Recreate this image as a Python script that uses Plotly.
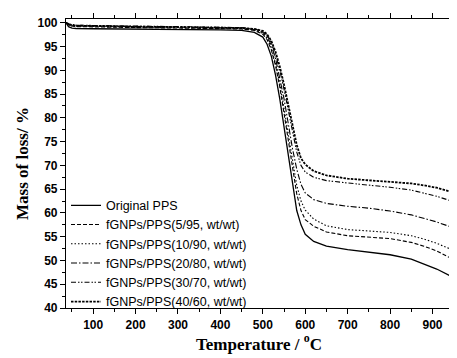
import plotly.graph_objects as go

temps_orig = [36, 42, 50, 60, 100, 200, 300, 400, 450, 480, 500, 510, 520, 530, 540, 550, 560, 570, 580, 590, 600, 620, 650, 700, 750, 800, 850, 880, 910, 945]
mass_orig = [100, 99.2, 98.9, 98.8, 98.75, 98.7, 98.6, 98.5, 98.4, 98.0, 97.0, 95.5, 93.0, 89.0, 84.0, 78.0, 71.5, 65.5, 60.5, 57.5, 55.5, 54.0, 53.0, 52.3, 51.8, 51.2, 50.3, 49.3, 48.2, 46.6]

temps = [36, 45, 60, 100, 200, 300, 400, 450, 480, 500, 510, 520, 530, 540, 550, 560, 570, 580, 590, 600, 620, 650, 700, 750, 800, 850, 880, 910, 945]
mass_5 = [100, 99.4, 99.2, 99.1, 99.0, 98.9, 98.8, 98.7, 98.4, 97.6, 96.5, 94.3, 91.0, 86.5, 81.0, 75.0, 69.0, 64.0, 60.5, 58.6, 57.2, 56.0, 55.2, 54.9, 54.6, 53.8, 53.0, 52.0, 50.4]
mass_10 = [100, 99.5, 99.3, 99.2, 99.1, 99.0, 98.9, 98.8, 98.5, 97.8, 96.8, 94.7, 91.5, 87.2, 82.0, 76.3, 70.5, 65.8, 62.5, 60.6, 58.7, 57.3, 56.5, 56.2, 55.9, 55.2, 54.5, 53.6, 52.3]
mass_20 = [100, 99.6, 99.4, 99.3, 99.2, 99.1, 99.0, 98.9, 98.6, 98.0, 97.1, 95.3, 92.5, 88.6, 84.0, 78.8, 73.5, 69.2, 66.0, 64.2, 62.8, 62.0, 61.4, 61.0, 60.4, 59.6, 58.9, 58.1, 57.0]
mass_30 = [100, 99.7, 99.5, 99.4, 99.3, 99.2, 99.1, 99.0, 98.7, 98.2, 97.4, 95.8, 93.3, 90.0, 86.0, 81.6, 77.0, 72.8, 70.0, 68.6, 67.5, 66.8, 66.3, 65.9, 65.4, 64.8, 64.2, 63.5, 62.5]
mass_40 = [100, 99.6, 99.4, 99.3, 99.2, 99.1, 99.0, 98.9, 98.7, 98.3, 97.6, 96.2, 93.9, 90.8, 87.0, 82.8, 78.4, 74.3, 71.5, 70.2, 68.8, 67.9, 67.2, 66.9, 66.6, 66.2, 65.8, 65.3, 64.4]

names = ["Original PPS", "fGNPs/PPS(5/95, wt/wt)", "fGNPs/PPS(10/90, wt/wt)",
         "fGNPs/PPS(20/80, wt/wt)", "fGNPs/PPS(30/70, wt/wt)", "fGNPs/PPS(40/60, wt/wt)"]
x_ticks = [100, 200, 300, 400, 500, 600, 700, 800, 900]
y_ticks = [40, 45, 50, 55, 60, 65, 70, 75, 80, 85, 90, 95, 100]

series = [
    (temps_orig, mass_orig, "solid", 1.3),
    (temps, mass_5, "4px,2px", 1.1),
    (temps, mass_10, "1.5px,2px", 1.1),
    (temps, mass_20, "6px,2px,1.5px,2px", 1.1),
    (temps, mass_30, "5px,2px,1.5px,1.5px,1.5px,2px", 1.1),
    (temps, mass_40, "2.5px,1.2px", 1.8),
]

fig = go.Figure()
for (x, y, dash, w), name in zip(series, names):
    fig.add_trace(go.Scatter(x=x, y=y, mode="lines", name=name,
                             line=dict(color="black", dash=dash, width=w)))

tickfont = dict(family="Liberation Sans, Arial", size=12, color="black", weight="bold")
titlefont = dict(family="Liberation Serif, Times New Roman", size=17, color="black", weight="bold")

# page body has an 8px default margin; figure sized to fit the 457x358 window
fig.update_layout(
    width=449, height=350,
    margin=dict(l=58, r=5, t=6, b=50),
    plot_bgcolor="white", paper_bgcolor="white",
    showlegend=True,
    legend=dict(x=0.0, y=-0.03, xanchor="left", yanchor="bottom",
                bgcolor="rgba(0,0,0,0)", font=dict(family="Liberation Sans, Arial", size=12.5, color="black"),
                tracegroupgap=0, itemwidth=30),
    xaxis=dict(range=[36, 946], tickvals=x_ticks, showgrid=False, zeroline=False,
               showline=True, linecolor="black", linewidth=1.2, mirror="ticks",
               ticks="outside", ticklen=5, tickwidth=1, tickcolor="black",
               minor=dict(ticks="outside", ticklen=3, dtick=50, tick0=0, tickcolor="black"),
               tickfont=tickfont,
               title=dict(text="Temperature / <sup>o</sup>C", font=titlefont, standoff=4)),
    yaxis=dict(range=[40, 100.8], tickvals=y_ticks, showgrid=False, zeroline=False,
               showline=True, linecolor="black", linewidth=1.2,
               ticks="outside", ticklen=5, tickwidth=1, tickcolor="black",
               minor=dict(ticks="outside", ticklen=3, dtick=2.5, tick0=0, tickcolor="black"),
               tickfont=tickfont,
               title=dict(text="Mass of loss/ %", font=titlefont, standoff=4)),
)
fig.write_html("out.html")
